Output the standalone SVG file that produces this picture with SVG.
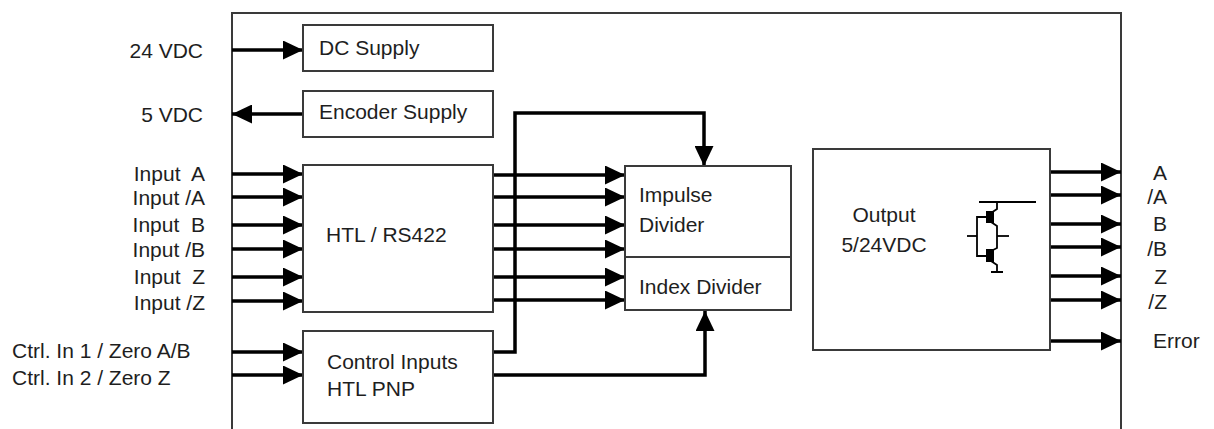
<svg xmlns="http://www.w3.org/2000/svg" width="1214" height="429" viewBox="0 0 1214 429">
<style>
text{font-family:"Liberation Sans",Arial,sans-serif;font-size:21px;fill:#1e1e1e;white-space:pre}
.box{fill:#fff;stroke:#3a3a3a;stroke-width:2}
.frame{fill:none;stroke:#3a3a3a;stroke-width:2}
.wire{fill:none;stroke:#000;stroke-width:3.5;marker-end:url(#ah)}
.sym{fill:none;stroke:#000;stroke-width:1.8}
.end{text-anchor:end}
.mid{text-anchor:middle}
</style>
<defs>
<marker id="ah" markerUnits="userSpaceOnUse" markerWidth="21" markerHeight="19" refX="20" refY="9.5" orient="auto">
<path d="M0,0 L20,9.5 L0,19 z" fill="#000"/>
</marker>
</defs>
<path class="frame" d="M232,429 V13 H1121 V429"/>
<g id="labels-left">
<text class="end" x="203" y="58">24 VDC</text>
<text class="end" x="203" y="122">5 VDC</text>
<text class="end" x="205" y="181">Input  A</text>
<text class="end" x="205" y="205">Input /A</text>
<text class="end" x="205" y="232">Input  B</text>
<text class="end" x="205" y="257">Input /B</text>
<text class="end" x="205" y="284">Input  Z</text>
<text class="end" x="205" y="310">Input /Z</text>
<text x="12" y="358">Ctrl. In 1 / Zero A/B</text>
<text x="12" y="385">Ctrl. In 2 / Zero Z</text>
</g>
<g id="labels-right">
<text class="end" x="1167" y="180">A</text>
<text class="end" x="1167" y="204">/A</text>
<text class="end" x="1167" y="231">B</text>
<text class="end" x="1167" y="256">/B</text>
<text class="end" x="1167" y="284">Z</text>
<text class="end" x="1167" y="309">/Z</text>
<text x="1153" y="348">Error</text>
</g>
<g id="connectors">
<path class="wire" d="M232,50 H303"/>
<path class="wire" d="M303,114 H232"/>
<path class="wire" d="M232,174 H303"/>
<path class="wire" d="M232,197 H303"/>
<path class="wire" d="M232,225 H303"/>
<path class="wire" d="M232,249 H303"/>
<path class="wire" d="M232,277 H303"/>
<path class="wire" d="M232,301 H303"/>
<path class="wire" d="M232,352 H303"/>
<path class="wire" d="M232,375 H303"/>
<path class="wire" d="M493,175 H625"/>
<path class="wire" d="M493,197 H625"/>
<path class="wire" d="M493,225 H625"/>
<path class="wire" d="M493,249 H625"/>
<path class="wire" d="M493,277 H625"/>
<path class="wire" d="M493,300 H625"/>
<path class="wire" d="M493,352 H515 V113 H704 V166"/>
<path class="wire" d="M493,375 H705 V311"/>
<path class="wire" d="M1050,172 H1121"/>
<path class="wire" d="M1050,195 H1121"/>
<path class="wire" d="M1050,224 H1121"/>
<path class="wire" d="M1050,247 H1121"/>
<path class="wire" d="M1050,276 H1121"/>
<path class="wire" d="M1050,300 H1121"/>
<path class="wire" d="M1050,341 H1121"/>
</g>
<g id="dc-supply">
<rect class="box" x="303" y="25" width="190" height="46"/>
<text x="319" y="55">DC Supply</text>
</g>
<g id="encoder-supply">
<rect class="box" x="303" y="91" width="190" height="46"/>
<text x="319" y="119">Encoder Supply</text>
</g>
<g id="htl-rs422">
<rect class="box" x="303" y="165" width="190" height="147"/>
<text x="326" y="242">HTL / RS422</text>
</g>
<g id="control-inputs">
<rect class="box" x="303" y="331" width="190" height="92"/>
<text x="327" y="369">Control Inputs</text>
<text x="327" y="396">HTL PNP</text>
</g>
<g id="divider">
<rect class="box" x="625" y="166" width="166" height="144"/>
<line class="box" x1="625" y1="257" x2="791" y2="257"/>
<text x="639" y="202">Impulse</text>
<text x="639" y="232">Divider</text>
<text x="639" y="294">Index Divider</text>
</g>
<g id="output">
<rect class="box" x="813" y="149" width="237" height="201"/>
<text class="mid" x="884" y="222">Output</text>
<text class="mid" x="884" y="252">5/24VDC</text>
<g id="transistor-symbol">
<path class="sym" d="M979,202 H1036"/>
<path class="sym" d="M997,202 V209 L991,213"/>
<path class="sym" d="M991,222 L997,226 V248 L991,251"/>
<path class="sym" d="M997,236 H1009"/>
<path class="sym" d="M986,217 H977 V256 H986"/>
<path class="sym" d="M967,236 H977"/>
<path class="sym" d="M991,261 L997,265 V272 M991,272 H1003"/>
<rect x="986" y="211" width="8" height="12" fill="#000"/>
<rect x="986" y="249" width="8" height="13" fill="#000"/>
</g>
</g>
</svg>
